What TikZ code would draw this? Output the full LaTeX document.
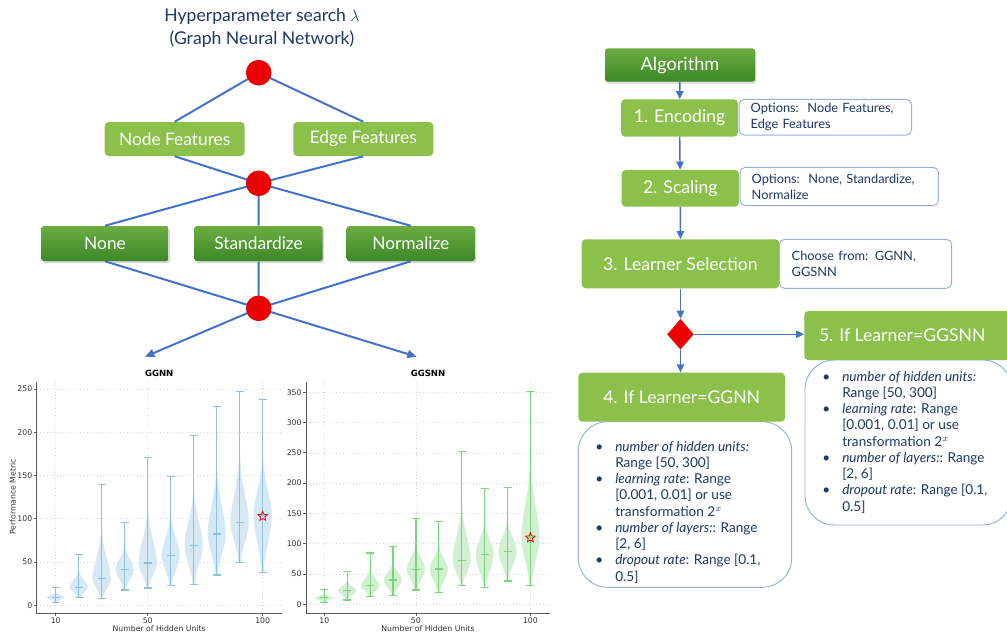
\documentclass[tikz,border=0pt]{standalone}
\usepackage{fontspec}
\setmainfont{Lato}
\newfontfamily\plotfont{DejaVu Sans}
\usetikzlibrary{arrows.meta,shadows,shapes.geometric}
\definecolor{lgreen}{RGB}{139,193,74}
\definecolor{dgtop}{RGB}{108,172,64}
\definecolor{dgbot}{RGB}{60,136,40}
\definecolor{lblue}{RGB}{68,114,196}
\definecolor{navy}{RGB}{31,56,100}
\definecolor{rred}{RGB}{236,0,0}
\definecolor{bord}{RGB}{150,175,225}
\definecolor{vfillB}{RGB}{214,232,244}
\definecolor{vlineB}{RGB}{140,194,224}
\definecolor{vfillG}{RGB}{210,239,210}
\definecolor{vlineG}{RGB}{122,212,122}
\definecolor{gridc}{RGB}{215,215,215}
\definecolor{spinec}{RGB}{90,90,90}
\newcommand\vio[8]{%
\fill[#7] plot[domain=#2:#4,samples=50] ({#1+9*exp(-1*(((\x-#3)/ifthenelse(\x<#3,(#3-#2)/1.5,(#4-#3)/3.4))^2))},{#5-\x*#6}) -- plot[domain=#4:#2,samples=50] ({#1-9*exp(-1*(((\x-#3)/ifthenelse(\x<#3,(#3-#2)/1.5,(#4-#3)/3.4))^2))},{#5-\x*#6}) -- cycle;
\draw[#8,line width=0.9pt] (#1,{#5-#2*#6}) -- (#1,{#5-#4*#6}) (#1-4,{#5-#2*#6}) -- (#1+4,{#5-#2*#6}) (#1-4,{#5-#4*#6}) -- (#1+4,{#5-#4*#6}) (#1-4,{#5-#3*#6}) -- (#1+4,{#5-#3*#6});
}
\begin{document}
\begin{tikzpicture}[x=0.75pt,y=-0.75pt,
  lbox/.style={fill=lgreen, rounded corners=3pt, text=white, inner sep=0, align=center},
  dbox/.style={top color=dgtop, bottom color=dgbot, rounded corners=2pt, text=white, inner sep=0, align=center, drop shadow={opacity=0.3, shadow xshift=1pt, shadow yshift=-1.5pt}},
  treefont/.style={font=\fontsize{13}{15}\selectfont},
  stepfont/.style={font=\fontsize{13.2}{15}\selectfont},
  conn/.style={draw=lblue, line width=1.5pt},
  arr/.style={draw=lblue, line width=1.1pt, -{Triangle[length=6pt,width=5.5pt]}},
  tarr/.style={draw=lblue, line width=1.5pt, -{Triangle[length=7pt,width=6pt]}},
  dot/.style={circle, fill=rred, minimum size=19pt, inner sep=0},
  optbox/.style={draw=bord, fill=white, rounded corners=4pt, line width=0.7pt, text=navy, align=left, inner xsep=8.7pt, inner ysep=0, font=\fontsize{9.6}{11.8}\selectfont},
  detbox/.style={draw=bord, fill=white, rounded corners=22pt, line width=0.7pt, inner sep=0},
  dettext/.style={text=navy, inner sep=0, font=\fontsize{10.2}{12.2}\selectfont},
  tick/.style={font=\plotfont\fontsize{5.8}{6}\selectfont, text=black!80, inner sep=0},
  grid/.style={gridc, line width=0.5pt, dotted},
  spine/.style={spinec, line width=0.7pt},
  starm/.style={star, star points=5, star point ratio=2.2, draw=red, line width=0.6pt, minimum size=7.5pt, inner sep=0}
]
\useasboundingbox (0,0) rectangle (1007,637);
\clip (0,0) rectangle (1007,637);
\fill[white] (0,0) rectangle (1007,637);

% ---------- title ----------
\node[text=navy, align=center, font=\fontsize{13.2}{17}\selectfont] (title) at (262,28) {Hyperparameter search $\lambda$\\(Graph Neural Network)};

% ---------- tree ----------
\node[dot] (c1) at (258.7,72.7) {};
\node[dot] (c2) at (258.7,183.3) {};
\node[dot] (c3) at (258.7,308.3) {};
\node[lbox, treefont, minimum width=105pt, minimum height=25.5pt] (nf) at (174.7,139) {Node Features};
\node[lbox, treefont, minimum width=105pt, minimum height=25.5pt] (ef) at (363.3,139) {Edge Features};
\node[dbox, treefont, minimum width=95.6pt, minimum height=26.25pt] (none) at (105,243.5) {None};
\node[dbox, treefont, minimum width=96.3pt, minimum height=26.25pt] (std) at (258.5,243.5) {Standardize};
\node[dbox, treefont, minimum width=96.2pt, minimum height=26.25pt] (nrm) at (410.8,243.5) {Normalize};
\coordinate (aL) at (145,356.7);
\coordinate (aR) at (416.7,356.7);
\draw[conn] (c1.center) -- (nf.north);
\draw[conn] (c1.center) -- (ef.north);
\draw[conn] (nf.south) -- (c2.center);
\draw[conn] (ef.south) -- (c2.center);
\draw[conn] (c2.center) -- (none.north);
\draw[conn] (c2.center) -- (std.north);
\draw[conn] (c2.center) -- (nrm.north);
\draw[conn] (none.south) -- (c3.center);
\draw[conn] (std.south) -- (c3.center);
\draw[conn] (nrm.south) -- (c3.center);
\draw[tarr] (c3.center) -- (aL);
\draw[tarr] (c3.center) -- (aR);
\node[dot] (c1b) at (c1) {};
\node[dot] (c2b) at (c2) {};
\node[dot] (c3b) at (c3) {};

% ---------- left plot (GGNN) ----------
\foreach \v in {0,50,...,250} {\draw[grid] (36.7,{605.3-\v*0.865}) -- (281.7,{605.3-\v*0.865});
  \draw[spinec,line width=0.6pt] (34,{605.3-\v*0.865}) -- (36.7,{605.3-\v*0.865});
  \node[tick, anchor=east] at (32.5,{605.3-\v*0.865}) {\v};}
\foreach \u/\l in {55.7/10,147.7/50,262.7/100} {\draw[grid] (\u,381.7) -- (\u,613.3);
  \draw[spinec,line width=0.6pt] (\u,613.3) -- (\u,616);
  \node[tick, anchor=north] at (\u,617) {\l};}
\vio{55.7}{3.5}{9.2}{20.8}{605.3}{0.865}{vfillB}{vlineB}
\vio{78.7}{8.9}{20.8}{59}{605.3}{0.865}{vfillB}{vlineB}
\vio{101.7}{8}{31}{140}{605.3}{0.865}{vfillB}{vlineB}
\vio{124.7}{17.7}{41.6}{96}{605.3}{0.865}{vfillB}{vlineB}
\vio{147.7}{20}{49}{171}{605.3}{0.865}{vfillB}{vlineB}
\vio{170.7}{22.7}{57.8}{149}{605.3}{0.865}{vfillB}{vlineB}
\vio{193.7}{24.3}{69.3}{196.5}{605.3}{0.865}{vfillB}{vlineB}
\vio{216.7}{35}{82.4}{229.6}{605.3}{0.865}{vfillB}{vlineB}
\vio{239.7}{49.3}{96}{247}{605.3}{0.865}{vfillB}{vlineB}
\vio{262.7}{38}{104}{237.7}{605.3}{0.865}{vfillB}{vlineB}
\draw[spine] (36.7,381.7) -- (36.7,613.3) -- (281.7,613.3);
\node[starm] (starL) at (262.7,516.2) {};
\node[font=\plotfont\bfseries\fontsize{6.4}{7}\selectfont, inner sep=0] (tL) at (159.2,373.5) {GGNN};
\node[tick, font=\plotfont\fontsize{5.8}{6}\selectfont] (xlL) at (159.2,628.5) {Number of Hidden Units};
\node[tick, font=\plotfont\fontsize{5.8}{6}\selectfont, rotate=90] (ylL) at (12.7,496.7) {Performance Metric};

% ---------- right plot (GGSNN) ----------
\foreach \v in {0,50,...,350} {\draw[grid] (306,{604.3-\v*0.6057}) -- (550,{604.3-\v*0.6057});
  \draw[spinec,line width=0.6pt] (303.3,{604.3-\v*0.6057}) -- (306,{604.3-\v*0.6057});
  \node[tick, anchor=east] at (301.8,{604.3-\v*0.6057}) {\v};}
\foreach \u/\l in {324.3/10,415.9/50,530.4/100} {\draw[grid] (\u,381.7) -- (\u,613.3);
  \draw[spinec,line width=0.6pt] (\u,613.3) -- (\u,616);
  \node[tick, anchor=north] at (\u,617) {\l};}
\vio{324.3}{3.3}{11}{24}{604.3}{0.6057}{vfillG}{vlineG}
\vio{347.2}{7.2}{22.6}{54}{604.3}{0.6057}{vfillG}{vlineG}
\vio{370.1}{12.7}{30.8}{84.8}{604.3}{0.6057}{vfillG}{vlineG}
\vio{393.0}{14.9}{40.2}{95.8}{604.3}{0.6057}{vfillG}{vlineG}
\vio{415.9}{23.7}{57.8}{142}{604.3}{0.6057}{vfillG}{vlineG}
\vio{438.8}{19.3}{58.3}{137}{604.3}{0.6057}{vfillG}{vlineG}
\vio{461.7}{30.8}{72.6}{252}{604.3}{0.6057}{vfillG}{vlineG}
\vio{484.6}{28}{82.6}{191.5}{604.3}{0.6057}{vfillG}{vlineG}
\vio{507.5}{38.5}{87.5}{193}{604.3}{0.6057}{vfillG}{vlineG}
\vio{530.4}{31.4}{110}{351.7}{604.3}{0.6057}{vfillG}{vlineG}
\draw[spine] (306,381.7) -- (306,613.3) -- (550,613.3);
\node[starm] (starR) at (530.4,537.7) {};
\node[font=\plotfont\bfseries\fontsize{6.4}{7}\selectfont, inner sep=0] (tR) at (428,373.5) {GGSNN};
\node[tick, font=\plotfont\fontsize{5.8}{6}\selectfont] (xlR) at (428,628.5) {Number of Hidden Units};

% ---------- flowchart ----------
\node[dbox, font=\fontsize{13.6}{15}\selectfont, minimum width=112.5pt, minimum height=25pt] (alg) at (680,65) {Algorithm};
\node[lbox, stepfont, minimum width=87.5pt, minimum height=28pt] (enc) at (679.5,118) {1. Encoding};
\node[lbox, stepfont, minimum width=88pt, minimum height=27.5pt] (scl) at (680.3,188.3) {2. Scaling};
\node[lbox, stepfont, minimum width=148.2pt, minimum height=36.75pt] (lsel) at (680.5,263.8) {3. Learner Selection};
\node[optbox, text width=112pt, minimum height=26.8pt] (opt1) at (825.3,117.2) {Options:\ \ Node Features,\\Edge Features};
\node[optbox, text width=131.3pt, minimum height=28.8pt] (opt2) at (839.2,186.5) {Options:\ \ None, Standardize,\\Normalize};
\node[optbox, inner xsep=9.3pt, text width=110.7pt, minimum height=36.75pt] (cho) at (865.5,263.8) {Choose from: GGNN,\\GGSNN};
\node[diamond, fill=rred, minimum width=20pt, minimum height=23pt, inner sep=0] (dia) at (680.5,334.3) {};
\node[detbox, minimum width=160pt, minimum height=124.2pt] (d4) at (685,504.5) {};
\node[detbox, minimum width=155.3pt, minimum height=123.75pt] (d5) at (908.5,442.5) {};
\node[lbox, stepfont, minimum width=155pt, minimum height=36.75pt] (h4) at (681.7,397.2) {4. If Learner=GGNN};
\node[lbox, stepfont, minimum width=161.8pt, minimum height=36.75pt] (h5) at (912.2,335.5) {\hspace*{-15pt}5. If Learner=GGSNN};
\draw[arr] (alg) -- (enc);
\draw[arr] (enc) -- (scl);
\draw[arr] (scl) -- (lsel);
\draw[arr] (lsel) -- (dia);
\draw[arr] (dia.east) -- (dia.east -| h5.west);
\draw[arr] (dia.south) -- (dia.south |- h4.north);

\node[dettext, anchor=base west] (t4) at (595,451) {\begin{tabular}[t]{@{}p{15pt}@{}l@{}}
\textbullet & \textit{number of hidden units:}\\
 & Range [50, 300]\\
\textbullet & \textit{learning rate}: Range\\
 & [0.001, 0.01] or use\\
 & transformation 2$^{x}$\\
\textbullet & \textit{number of layers:}: Range\\
 & [2, 6]\\
\textbullet & \textit{dropout rate}: Range [0.1,\\
 & 0.5]
\end{tabular}};
\node[dettext, anchor=base west] (t5) at (822,381) {\begin{tabular}[t]{@{}p{15pt}@{}l@{}}
\textbullet & \textit{number of hidden units:}\\
 & Range [50, 300]\\
\textbullet & \textit{learning rate}: Range\\
 & [0.001, 0.01] or use\\
 & transformation 2$^{x}$\\
\textbullet & \textit{number of layers:}: Range\\
 & [2, 6]\\
\textbullet & \textit{dropout rate}: Range [0.1,\\
 & 0.5]
\end{tabular}};
\end{tikzpicture}
\end{document}
